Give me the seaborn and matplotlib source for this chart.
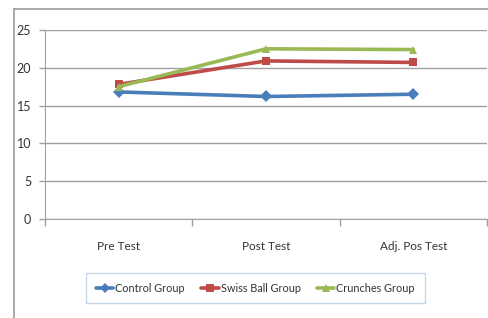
import matplotlib
matplotlib.use("Agg")
import matplotlib.pyplot as plt
from matplotlib.lines import Line2D
import pandas as pd
import seaborn as sns

tests = ["Pre Test", "Post Test", "Adj. Pos Test"]
control = [16.8, 16.2, 16.5]
swiss_ball = [17.8, 20.9, 20.7]
crunches = [17.5, 22.5, 22.4]

groups = ["Control Group", "Swiss Ball Group", "Crunches Group"]
colors = ["#4a7ebb", "#be4b48", "#98b954"]
markers = ["D", "s", "^"]

df = pd.DataFrame({
    "test": tests * 3,
    "x": [0, 1, 2] * 3,
    "score": control + swiss_ball + crunches,
    "group": [g for g in groups for _ in tests],
})

sns.set_style("white")
plt.rcParams["font.family"] = ["Lato", "DejaVu Sans"]

fig = plt.figure(figsize=(4.89, 3.18), dpi=100)
ax = fig.add_axes([0.092, 0.311, 0.904, 0.595])

# outer chart border
fig.add_artist(Line2D([0.029, 0.029], [0.0, 0.972], color="#9a9a9a", lw=1.2, transform=fig.transFigure))
fig.add_artist(Line2D([0.029, 1.0], [0.972, 0.972], color="#9a9a9a", lw=1.2, transform=fig.transFigure))

sns.lineplot(data=df, x="x", y="score", hue="group", style="group",
             palette=colors, markers=markers, dashes=False, linewidth=2.6,
             markersize=6, markeredgewidth=0, ax=ax)

ax.set_xlim(-0.5, 2.5)
ax.set_ylim(0, 25)
ax.set_yticks(range(0, 26, 5))
ax.yaxis.grid(True, color="#a0a0a0", lw=1)
ax.set_axisbelow(True)
ax.set_xticks([-0.5, 0.5, 1.5, 2.5])
ax.set_xticklabels([])
ax.tick_params(axis="x", length=5, color="#a0a0a0", width=1, direction="out", bottom=True)
ax.tick_params(axis="y", length=4, color="#a0a0a0", width=1, direction="out", left=True,
               labelsize=9, pad=6, labelcolor="#333333")
for i, t in enumerate(tests):
    ax.text(i, -3.6, t, ha="center", va="center", fontsize=8.5, color="#333333")
for s in ["top", "right"]:
    ax.spines[s].set_visible(False)
for s in ["left", "bottom"]:
    ax.spines[s].set_color("#a0a0a0")
ax.set_xlabel("")
ax.set_ylabel("")

handles, labels = ax.get_legend_handles_labels()
leg = ax.legend(handles, labels, loc="center", bbox_to_anchor=(0.476, -0.365), ncol=3,
                fontsize=7.8, frameon=True, fancybox=False, edgecolor="#b8cce4",
                handlelength=1.6, handletextpad=0.2, columnspacing=1.5,
                borderpad=0.9, borderaxespad=0, labelcolor="#333333",
                markerscale=0.9)
leg.get_frame().set_linewidth(1.0)

fig.savefig("out.png", dpi=100)
